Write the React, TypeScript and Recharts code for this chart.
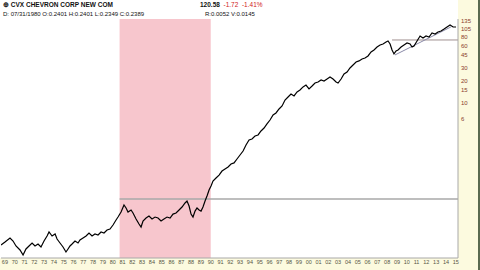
import React from "react";
import { ComposedChart, Line, XAxis, YAxis, ReferenceArea, ReferenceLine } from "recharts";

const years = [
  1968.6, 1969.01, 1969.52, 1969.83, 1970.13, 1970.54, 1970.85, 1971.15, 1971.46, 1971.77,
  1972.07, 1972.38, 1972.68, 1972.99, 1973.3, 1973.5, 1973.81, 1974.12, 1974.32, 1974.62,
  1974.93, 1975.23, 1975.44, 1975.64, 1975.85, 1976.15, 1976.46, 1976.66, 1976.97, 1977.28,
  1977.58, 1977.89, 1978.19, 1978.5, 1978.81, 1979.11, 1979.42, 1979.72, 1980.03, 1980.34,
  1980.54, 1980.85, 1981.15, 1981.36, 1981.56, 1981.87, 1982.07, 1982.38, 1982.68, 1982.89,
  1983.09, 1983.4, 1983.7, 1984.01, 1984.32, 1984.62, 1984.93, 1985.23, 1985.54, 1985.85,
  1986.15, 1986.46, 1986.77, 1987.07, 1987.38, 1987.58, 1987.79, 1987.99, 1988.19, 1988.4,
  1988.6, 1988.81, 1989.01, 1989.21, 1989.42, 1989.62, 1989.83, 1990.03, 1990.23, 1990.54,
  1990.85, 1991.15, 1991.46, 1991.77, 1992.07, 1992.38, 1992.68, 1992.99, 1993.3, 1993.6,
  1993.91, 1994.21, 1994.52, 1994.83, 1995.13, 1995.44, 1995.74, 1996.05, 1996.36, 1996.66,
  1996.97, 1997.28, 1997.58, 1997.89, 1998.19, 1998.5, 1998.81, 1999.11, 1999.42, 1999.72,
  2000.03, 2000.34, 2000.64, 2000.95, 2001.26, 2001.56, 2001.87, 2002.17, 2002.48, 2002.79,
  2002.99, 2003.3, 2003.6, 2003.91, 2004.21, 2004.52, 2004.83, 2005.13, 2005.44, 2005.74,
  2006.05, 2006.36, 2006.66, 2006.97, 2007.28, 2007.58, 2007.89, 2008.09, 2008.3, 2008.5,
  2008.7, 2008.91, 2009.11, 2009.42, 2009.72, 2010.03, 2010.34, 2010.54, 2010.74, 2011.05,
  2011.36, 2011.66, 2011.97, 2012.27, 2012.58, 2012.89, 2013.19, 2013.5, 2013.81, 2014.11,
  2014.42, 2014.73, 2015.03,
];

const prices = [
  0.1135, 0.1247, 0.1415, 0.1287, 0.11, 0.097, 0.0828, 0.1001, 0.11, 0.1209,
  0.11, 0.1171, 0.1066, 0.1287, 0.1507, 0.171, 0.1507, 0.1605, 0.1371, 0.1209,
  0.1066, 0.091, 0.1001, 0.11, 0.1171, 0.1287, 0.1209, 0.133, 0.1415, 0.1507,
  0.1657, 0.1507, 0.1605, 0.1555, 0.171, 0.1657, 0.182, 0.188, 0.213, 0.25,
  0.274, 0.321, 0.401, 0.365, 0.321, 0.342, 0.311, 0.258, 0.22, 0.2,
  0.242, 0.266, 0.283, 0.258, 0.274, 0.266, 0.242, 0.258, 0.274, 0.266,
  0.301, 0.311, 0.342, 0.376, 0.427, 0.455, 0.388, 0.301, 0.274, 0.331,
  0.365, 0.342, 0.331, 0.376, 0.455, 0.532, 0.643, 0.73, 0.854, 0.939,
  1.03, 1.17, 1.25, 1.33, 1.46, 1.51, 1.71, 1.94, 2.2, 2.66,
  3.11, 3.21, 3.53, 3.65, 4.14, 4.54, 5.16, 5.85, 6.85, 7.3,
  8.28, 9.1, 11.0, 12.1, 13.3, 12.5, 14.2, 15.1, 16.6, 17.6,
  15.6, 17.1, 18.8, 19.4, 20.7, 20.0, 21.3, 22.7, 21.3, 19.4,
  18.8, 21.3, 25.0, 26.6, 30.2, 33.2, 36.5, 37.7, 40.1, 41.4,
  44.1, 50.0, 53.2, 58.5, 62.3, 64.3, 68.5, 70.7, 64.3, 53.2,
  47.0, 51.6, 53.2, 58.5, 62.3, 66.4, 64.3, 58.5, 60.4, 70.7,
  82.7, 77.7, 82.7, 80.2, 91.0, 88.2, 94.0, 97.0, 103.2, 109.9,
  117.1, 109.9, 109.9,
];

const yearTicks = [
  1969, 1970, 1971, 1972, 1973, 1974, 1975, 1976, 1977, 1978, 1979, 1980, 1981, 1982, 1983, 1984,
  1985, 1986, 1987, 1988, 1989, 1990, 1991, 1992, 1993, 1994, 1995, 1996, 1997, 1998, 1999, 2000,
  2001, 2002, 2003, 2004, 2005, 2006, 2007, 2008, 2009, 2010, 2011, 2012, 2013, 2014, 2015,
];
const priceTicks = [6, 10, 15, 20, 30, 45, 60, 80, 105, 135];

const shadeStart = 1980.7;
const shadeEnd = 1990.0;
const supportLevel = 0.484;
const resistLevel = 73.0;
const resistStart = 2008.5;
const trendStart = { year: 2008.8, price: 45.5 };
const trendEnd = { year: 2014.5, price: 110 };

const data = years.map((y, i) => ({ year: y, price: prices[i] }));

const font = '"Liberation Sans", Arial, sans-serif';

export default function App() {
  return (
    <div style={{ position: "fixed", left: 0, top: 0, width: 480, height: 270, background: "#fcfadf", fontFamily: font }}>
      <div style={{ position: "absolute", left: 0, top: 0, width: 458, height: 258, background: "#ffffff" }} />
      <div style={{ position: "absolute", left: 478, top: 0, width: 2, height: 270, background: "#5a6a50" }} />
      <ComposedChart
        width={480}
        height={270}
        data={data}
        margin={{ top: 19, right: 0, bottom: 0, left: 1 }}
        style={{ position: "absolute", left: 0, top: 0 }}
      >
        <XAxis
          dataKey="year"
          type="number"
          domain={[1968.6, 2015.23]}
          ticks={yearTicks}
          interval={0}
          allowDataOverflow
          height={12}
          tickSize={1}
          tickMargin={1}
          tickLine={false}
          axisLine={{ stroke: "#a8a8a8" }}
          tick={{ fontSize: 5.5, fill: "#555544", fontFamily: font }}
          tickFormatter={(v: number) => String(v % 100).padStart(2, "0")}
        />
        <YAxis
          orientation="right"
          scale="log"
          domain={[0.0753, 141.5]}
          allowDataOverflow
          ticks={priceTicks}
          interval={0}
          width={22}
          tickSize={1}
          tickMargin={2}
          tickLine={false}
          axisLine={{ stroke: "#a8a8a8" }}
          tick={{ fontSize: 6, fill: "#8a3b2b", fontFamily: font, textAnchor: "start" }}
        />
        <ReferenceArea x1={shadeStart} x2={shadeEnd} fill="#f7c6cd" fillOpacity={1} stroke="none" />
        <ReferenceLine
          segment={[{ x: shadeStart, y: supportLevel }, { x: 2015.23, y: supportLevel }]}
          stroke="#a9a9a9"
          strokeWidth={1.5}
        />
        <ReferenceLine
          segment={[{ x: resistStart, y: resistLevel }, { x: 2015.23, y: resistLevel }]}
          stroke="#a09090"
          strokeWidth={1}
        />
        <ReferenceLine
          segment={[{ x: trendStart.year, y: trendStart.price }, { x: trendEnd.year, y: trendEnd.price }]}
          stroke="#8a8aa8"
          strokeWidth={1}
        />
        <Line
          dataKey="price"
          stroke="#000000"
          strokeWidth={1.2}
          dot={false}
          isAnimationActive={false}
          type="linear"
        />
      </ComposedChart>
      <div style={{ position: "absolute", left: 3, top: 1, fontSize: 6.5, fontWeight: "bold", color: "#111", whiteSpace: "nowrap", lineHeight: "8px" }}>
        ⊕ CVX CHEVRON CORP NEW COM
      </div>
      <div style={{ position: "absolute", left: 3, top: 10, fontSize: 6, color: "#111", whiteSpace: "nowrap", lineHeight: "8px" }}>
        D: 07/31/1980 O:0.2401 H:0.2401 L:0.2349 C:0.2389
      </div>
      <div style={{ position: "absolute", left: 200, top: 1, fontSize: 6.5, whiteSpace: "nowrap", lineHeight: "8px" }}>
        <span style={{ fontWeight: "bold", color: "#111" }}>120.58</span>
        <span style={{ color: "#d02020" }}>&nbsp;&nbsp;-1.72&nbsp;&nbsp;-1.41%</span>
      </div>
      <div style={{ position: "absolute", left: 205, top: 10, fontSize: 6, color: "#111", whiteSpace: "nowrap", lineHeight: "8px" }}>
        R:0.0052 V:0.0145
      </div>
    </div>
  );
}
